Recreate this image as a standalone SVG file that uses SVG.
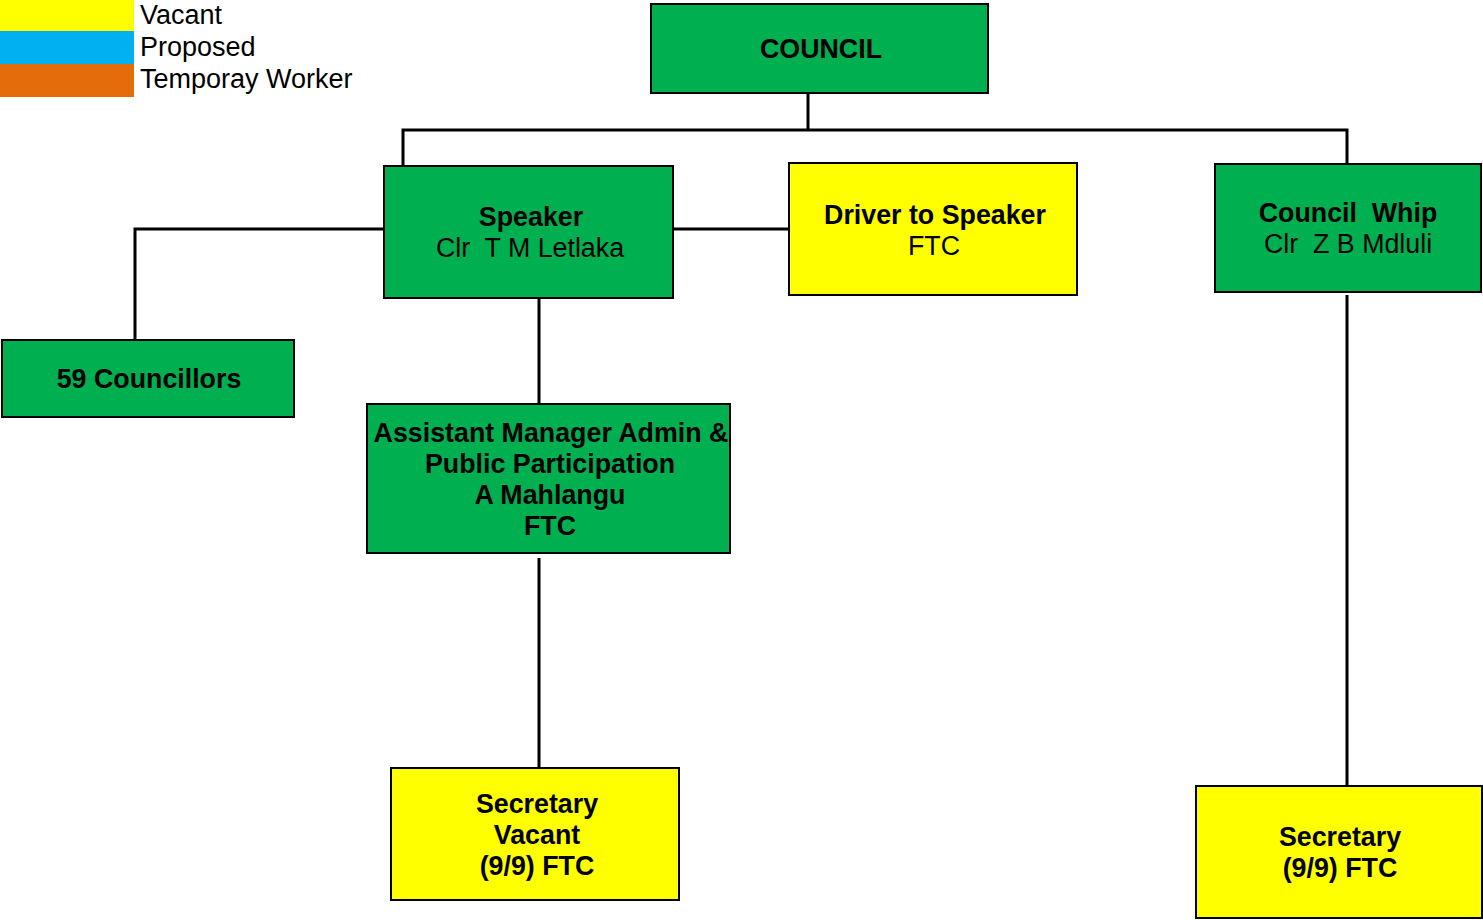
<svg xmlns="http://www.w3.org/2000/svg" width="1483" height="920" viewBox="0 0 1483 920">
  <style>
    text { font-family: "Liberation Sans", Arial, sans-serif; font-size: 26.8px; fill: #000; text-anchor: middle; white-space: pre; }
    .b { font-weight: bold; }
    .legend { text-anchor: start; font-size: 27px; }
    .box { stroke: #000; stroke-width: 2; }
    .green { fill: #00B050; }
    .yellow { fill: #FFFF00; }
    .wire { fill: none; stroke: #000; stroke-width: 3; }
  </style>

  <!-- legend -->
  <g id="legend">
    <rect x="0" y="0" width="134" height="31" fill="#FFFF00"/>
    <rect x="0" y="31" width="134" height="33" fill="#00B0F0"/>
    <rect x="0" y="64" width="134" height="33" fill="#E46C0A"/>
    <text class="legend" x="140" y="24">Vacant</text>
    <text class="legend" x="140" y="56">Proposed</text>
    <text class="legend" x="140" y="88">Temporay Worker</text>
  </g>

  <!-- connectors -->
  <g id="connectors" class="wire">
    <path d="M808 93 V130"/>
    <path d="M403 165 V130 H1347 V163"/>
    <path d="M673 229 H789"/>
    <path d="M384 229 H135 V340"/>
    <path d="M539 298 V403"/>
    <path d="M539 558 V768"/>
    <path d="M1347 295 V786"/>
  </g>

  <g id="council">
    <rect class="box green" x="651" y="4" width="337" height="89"/>
    <text class="b" x="821" y="58">COUNCIL</text>
  </g>

  <g id="speaker">
    <rect class="box green" x="384" y="166" width="289" height="132"/>
    <text class="b" x="531" y="226">Speaker</text>
    <text x="530" y="257">Clr  T M Letlaka</text>
  </g>

  <g id="driver">
    <rect class="box yellow" x="789" y="163" width="288" height="132"/>
    <text class="b" x="935" y="224">Driver to Speaker</text>
    <text x="934" y="255">FTC</text>
  </g>

  <g id="whip">
    <rect class="box green" x="1215" y="164" width="266" height="128"/>
    <text class="b" x="1348" y="222">Council  Whip</text>
    <text x="1348" y="253">Clr  Z B Mdluli</text>
  </g>

  <g id="councillors">
    <rect class="box green" x="2" y="340" width="292" height="77"/>
    <text class="b" x="149" y="388">59 Councillors</text>
  </g>

  <g id="asst-manager">
    <rect class="box green" x="367" y="404" width="363" height="149"/>
    <text class="b" x="551" y="442">Assistant Manager Admin &amp;</text>
    <text class="b" x="550" y="473">Public Participation</text>
    <text class="b" x="550" y="504">A Mahlangu</text>
    <text class="b" x="550" y="535">FTC</text>
  </g>

  <g id="secretary-speaker">
    <rect class="box yellow" x="391" y="768" width="288" height="132"/>
    <text class="b" x="537" y="813">Secretary</text>
    <text class="b" x="537" y="844">Vacant</text>
    <text class="b" x="537" y="875">(9/9) FTC</text>
  </g>

  <g id="secretary-whip">
    <rect class="box yellow" x="1196" y="786" width="286" height="132"/>
    <text class="b" x="1340" y="846">Secretary</text>
    <text class="b" x="1340" y="877">(9/9) FTC</text>
  </g>
</svg>
